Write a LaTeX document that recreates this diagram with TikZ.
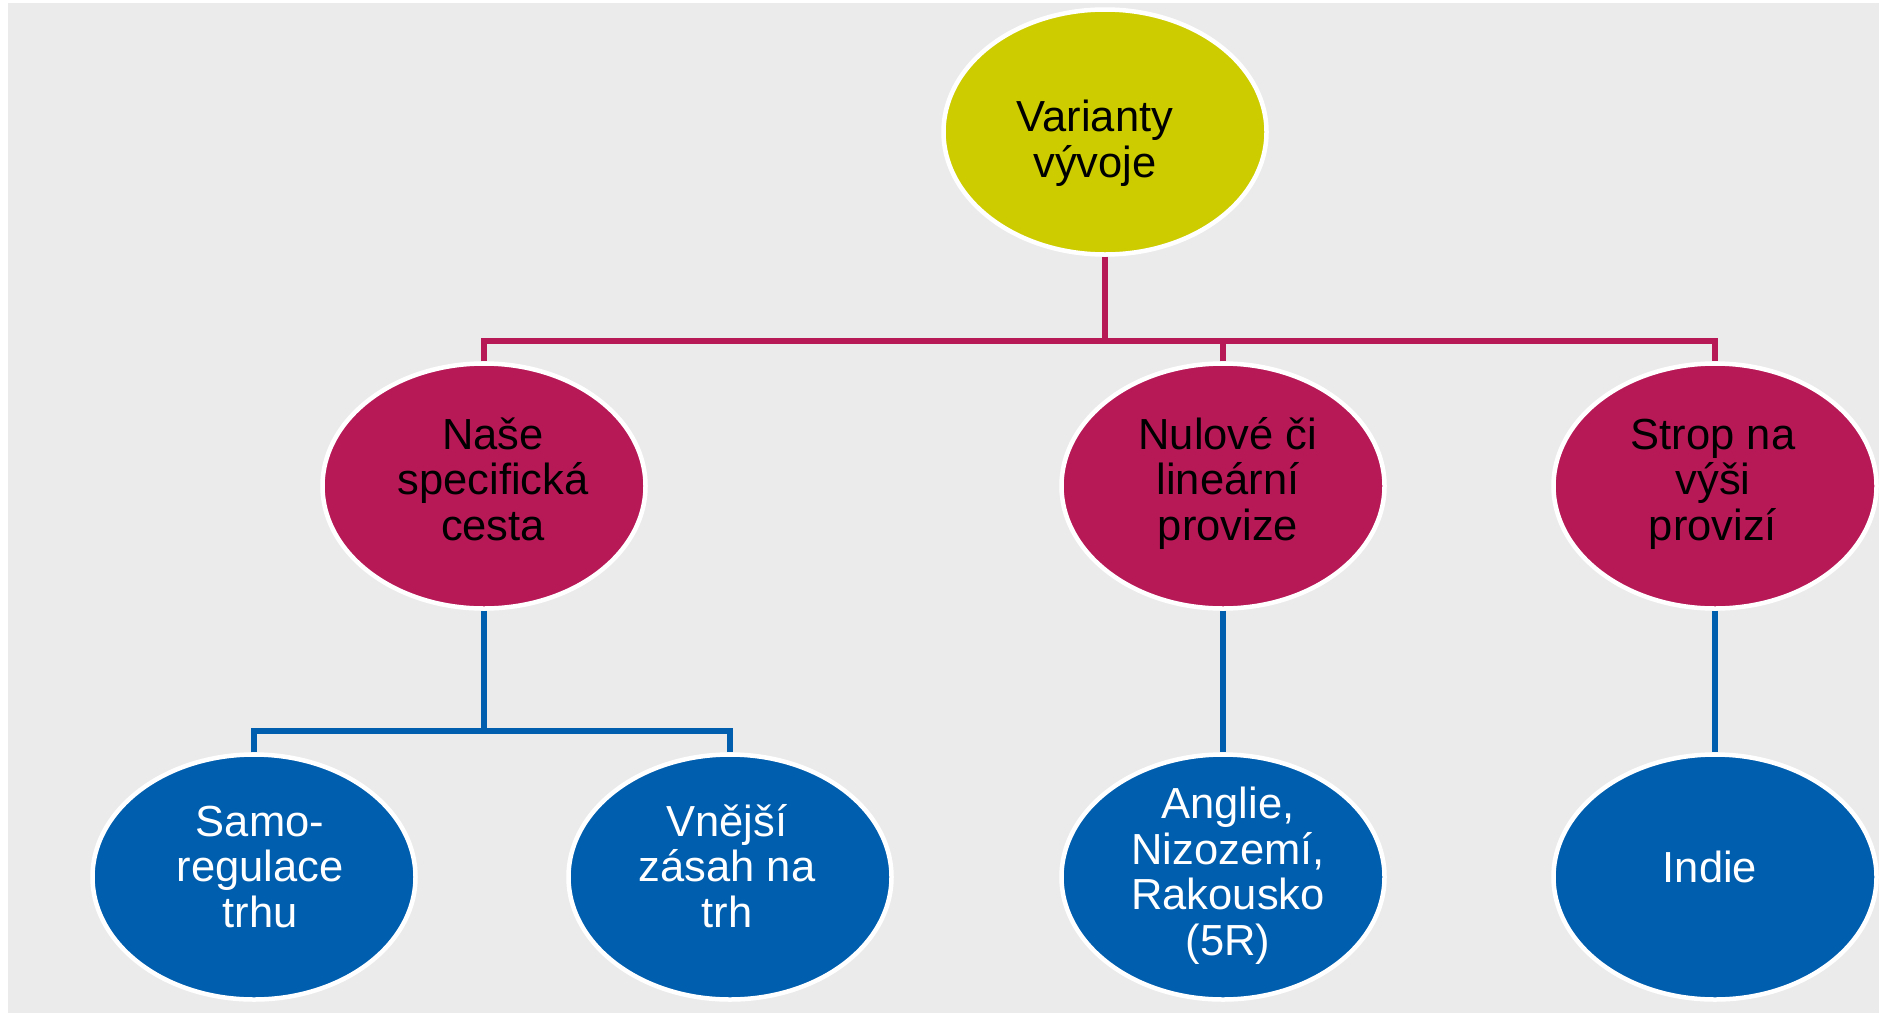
\documentclass[tikz,border=0pt]{standalone}
\usepackage{fontspec}
\setmainfont{Liberation Sans}
\usetikzlibrary{shapes.geometric}
\definecolor{bgc}{HTML}{EBEBEB}
\definecolor{yel}{HTML}{CCCC00}
\definecolor{mag}{HTML}{B71957}
\definecolor{blu}{HTML}{005EAE}
\tikzset{
  oval/.style={ellipse, draw=white, line width=4.5pt, inner sep=0pt,
    minimum width=323pt, minimum height=245pt},
  topoval/.style={oval, fill=yel},
  midoval/.style={oval, fill=mag},
  botoval/.style={oval, fill=blu},
  lbl/.style={anchor=base, align=center, inner sep=0pt,
    font=\fontsize{43.5}{45.5}\selectfont},
  darklbl/.style={lbl, text=black},
  lightlbl/.style={lbl, text=white},
  magline/.style={draw=mag, line width=5.5pt},
  bluline/.style={draw=blu, line width=5.5pt}
}
\begin{document}
\begin{tikzpicture}[x=1pt,y=-1pt]
\useasboundingbox (0,0) rectangle (1879,1015);
\fill[white] (0,0) rectangle (1879,1015);
\fill[bgc] (8,3) rectangle (1879,1013);

% ellipses
\node[topoval] (top) at (1105,132) {};
\node[midoval] (m1) at (484,486) {};
\node[midoval] (m2) at (1223,486) {};
\node[midoval] (m3) at (1715,486) {};
\node[botoval] (b1) at (254,877) {};
\node[botoval] (b2) at (730,877) {};
\node[botoval] (b3) at (1223,877) {};
\node[botoval] (b4) at (1715,877) {};

% junctions
\coordinate (jm) at (1104,341);
\coordinate (jb) at (484,731);

% magenta connectors
\draw[magline] (top.south) -- (top.south |- jm);
\draw[magline] (m1.north) -- (m1.north |- jm) -- (m3.north |- jm) -- (m3.north);
\draw[magline] (m2.north) -- (m2.north |- jm);

% blue connectors
\draw[bluline] (m1.south) -- (m1.south |- jb);
\draw[bluline] (b1.north) -- (b1.north |- jb) -- (b2.north |- jb) -- (b2.north);
\draw[bluline] (m2.south) -- (b3.north);
\draw[bluline] (m3.south) -- (b4.north);

% labels (anchor base = baseline of last line)
\node[darklbl] (tTop) at (1095,177) {Varianty\\vývoje};
\node[darklbl] (tM1) at (493,540) {Naše\\specifická\\cesta};
\node[darklbl] (tM2) at (1228,540) {Nulové či\\lineární\\provize};
\node[darklbl] (tM3) at (1713,540) {Strop na\\výši\\provizí};
\node[lightlbl] (tB1) at (260,927) {Samo-\\regulace\\trhu};
\node[lightlbl] (tB2) at (727,927) {Vnější\\zásah na\\trh};
\node[lightlbl] (tB3) at (1228,955) {Anglie,\\Nizozemí,\\Rakousko\\(5R)};
\node[lightlbl] (tB4) at (1710,882) {Indie};
\end{tikzpicture}
\end{document}
